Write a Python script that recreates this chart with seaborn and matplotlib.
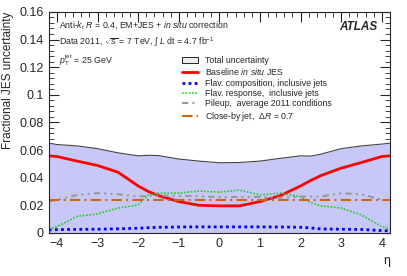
import numpy as np
import pandas as pd
import matplotlib
matplotlib.use("Agg")
import matplotlib.pyplot as plt
import seaborn as sns
from matplotlib.patches import Patch
from matplotlib.lines import Line2D
from matplotlib.ticker import MultipleLocator, FuncFormatter

# values
eta = [-4.2, -4.0, -3.5, -3.0, -2.5, -2.0, -1.75, -1.5, -1.0, -0.5, 0.0,
       0.5, 1.0, 1.5, 2.0, 2.25, 2.5, 3.0, 3.5, 4.0, 4.2]
total = [0.065, 0.064, 0.063, 0.061, 0.058, 0.0558, 0.0562, 0.056, 0.0535, 0.052, 0.0508,
         0.051, 0.052, 0.054, 0.0558, 0.0556, 0.057, 0.061, 0.063, 0.0643, 0.065]
baseline = [0.0558, 0.0553, 0.052, 0.0488, 0.044, 0.034, 0.030, 0.027, 0.0227, 0.020, 0.0196,
            0.0196, 0.0227, 0.027, 0.034, 0.038, 0.0415, 0.0469, 0.051, 0.0553, 0.0558]
flav_comp = [0.0022, 0.0024, 0.0026, 0.0027, 0.003, 0.0034, 0.0038, 0.0041, 0.0043, 0.0044, 0.0044,
             0.0044, 0.0044, 0.0043, 0.0041, 0.0036, 0.0029, 0.0027, 0.0025, 0.0017, 0.0015]
flav_resp = [0.003, 0.0046, 0.012, 0.0138, 0.018, 0.0203, 0.0275, 0.0288, 0.0288, 0.0304, 0.0295,
             0.031, 0.0275, 0.0288, 0.0263, 0.022, 0.0196, 0.018, 0.013, 0.0046, 0.003]
pileup = [0.0227, 0.024, 0.0275, 0.0288, 0.028, 0.0263, 0.027, 0.027, 0.027, 0.0265, 0.026,
          0.026, 0.026, 0.0255, 0.0263, 0.0263, 0.0263, 0.0288, 0.028, 0.024, 0.0235]
closeby = [0.0235, 0.0235, 0.0235, 0.0235, 0.0235, 0.0235, 0.0235, 0.0235, 0.0235, 0.0235, 0.0235,
           0.0235, 0.0235, 0.0235, 0.0235, 0.0235, 0.0235, 0.0235, 0.0235, 0.0235, 0.0235]

labels = ["Total uncertainty", "Baseline $\\it{in\\ situ}$ JES",
          "Flav. composition, inclusive jets", "Flav. response,  inclusive jets",
          "Pileup,  average 2011 conditions", "Close-by jet,  $\\Delta R$ = 0.7"]

sns.set_style("ticks")
plt.rcParams['font.family'] = ['Liberation Sans', 'DejaVu Sans']
plt.rcParams['mathtext.fontset'] = 'custom'
plt.rcParams['mathtext.rm'] = 'Liberation Sans'
plt.rcParams['mathtext.it'] = 'Liberation Sans:italic'
plt.rcParams['mathtext.bf'] = 'Liberation Sans:bold'

df = pd.DataFrame({"eta": eta, "total": total, "baseline": baseline,
                   "flav_comp": flav_comp, "flav_resp": flav_resp,
                   "pileup": pileup, "closeby": closeby})

fig = plt.figure(figsize=(4.07, 2.76), dpi=100)
ax = fig.add_axes([0.120, 0.156, 0.838, 0.801])

ax.fill_between(df["eta"], 0, df["total"], color="#c8c8f8", lw=0)
sns.lineplot(data=df, x="eta", y="total", ax=ax, color="#444444", lw=0.8)
sns.lineplot(data=df, x="eta", y="baseline", ax=ax, color="red", lw=2)
sns.lineplot(data=df, x="eta", y="flav_comp", ax=ax, color="blue", lw=2, linestyle=(0, (1, 1.2)))
sns.lineplot(data=df, x="eta", y="flav_resp", ax=ax, color="#22cc22", lw=1.2, linestyle=(0, (1, 1)))
sns.lineplot(data=df, x="eta", y="pileup", ax=ax, color="#999999", lw=1.5, linestyle=(0, (3, 2, 1, 2, 1, 2)))
sns.lineplot(data=df, x="eta", y="closeby", ax=ax, color="#cc6611", lw=1.5, linestyle=(0, (5, 2, 1, 2)))

ax.set_xlim(-4.2, 4.2)
ax.set_ylim(0, 0.16)
ax.xaxis.set_major_locator(MultipleLocator(1))
ax.xaxis.set_minor_locator(MultipleLocator(0.2))
ax.yaxis.set_major_locator(MultipleLocator(0.02))
ax.yaxis.set_minor_locator(MultipleLocator(0.004))
ax.yaxis.set_major_formatter(FuncFormatter(lambda v, p: "%g" % round(v, 3)))
ax.tick_params(which="both", direction="in", top=True, right=True, labelsize=9)
ax.tick_params(which="major", length=7)
ax.tick_params(which="minor", length=3.5)
for s in ax.spines.values():
    s.set_linewidth(0.8)

ax.set_xlabel("η", fontsize=9, loc="right")
ax.set_ylabel("Fractional JES uncertainty", fontsize=8.5, loc="top")

tx = dict(transform=ax.transAxes, fontsize=6.3, va="center")
ax.text(0.03, 0.94, "Anti-$k_{t}$ $R$ = 0.4, EM+JES + $\\it{in\\ situ}$ correction", **tx)
ax.text(0.03, 0.865, "Data 2011, $\\sqrt{s}$ = 7 TeV, $\\int$ $L$ dt = 4.7 fb$^{-1}$", **tx)
ax.text(0.03, 0.78, "$p_{\\mathrm{T}}^{\\mathrm{jet}}$ = 25 GeV", **tx)
ax.text(0.965, 0.93, "ATLAS", transform=ax.transAxes, fontsize=8.5, fontweight="bold",
        fontstyle="italic", ha="right", va="center")

handles = [Patch(facecolor="#eeeeee", edgecolor="black", lw=0.6),
           Line2D([], [], color="red", lw=2),
           Line2D([], [], color="blue", lw=2, linestyle=(0, (1, 1.2))),
           Line2D([], [], color="#22cc22", lw=1.2, linestyle=(0, (1, 1))),
           Line2D([], [], color="#999999", lw=1.5, linestyle=(0, (3, 2, 1, 2, 1, 2))),
           Line2D([], [], color="#cc6611", lw=1.5, linestyle=(0, (5, 2, 1, 2)))]
ax.legend(handles, labels, loc="upper left", bbox_to_anchor=(0.39, 0.80), frameon=False,
          fontsize=6.3, handlelength=1.8, handletextpad=0.8, labelspacing=0.15,
          borderaxespad=0, borderpad=0)

fig.savefig("out.png", dpi=100)
